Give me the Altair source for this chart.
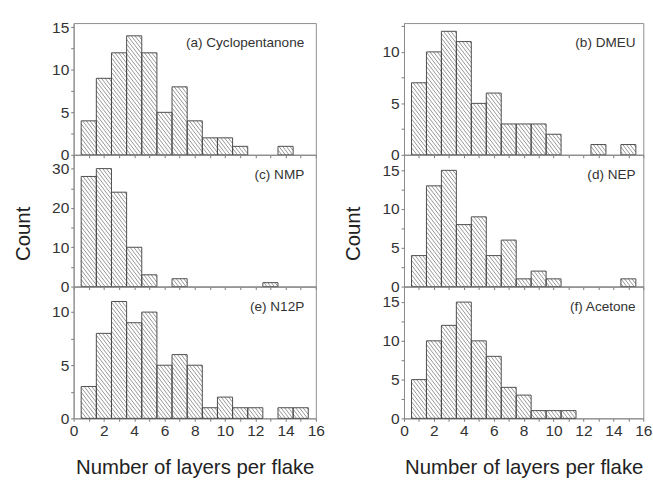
import altair as alt
import pandas as pd
import numpy as np

# ---- data ----
bin_centres = list(range(1, 16))
counts_a = [4, 9, 12, 14, 12, 5, 8, 4, 2, 2, 1, 0, 0, 1, 0]
counts_b = [7, 10, 12, 11, 5, 6, 3, 3, 3, 2, 0, 0, 1, 0, 1]
counts_c = [28, 30, 24, 10, 3, 0, 2, 0, 0, 0, 0, 0, 1, 0, 0]
counts_d = [4, 13, 15, 8, 9, 4, 6, 1, 2, 1, 0, 0, 0, 0, 1]
counts_e = [3, 8, 11, 9, 10, 5, 6, 5, 1, 2, 1, 1, 0, 1, 1]
counts_f = [5, 10, 12, 15, 10, 8, 4, 3, 1, 1, 1, 0, 0, 0, 0]
panel_labels = ["(a) Cyclopentanone", "(b) DMEU", "(c) NMP",
                "(d) NEP", "(e) N12P", "(f) Acetone"]
y_max = [15.5, 12.8, 33.5, 17.0, 12.4, 17.0]
y_major = [5, 5, 10, 5, 5, 5]
x_ticks = list(range(0, 17))
x_title = "Number of layers per flake"
y_title = "Count"

FONT = "Liberation Sans"
H = 136
W_LEFT, W_RIGHT = 250, 247


def hatch_rows(counts, ymax, W, step=3.8, slope=1.3):
    """Diagonal hatch segments clipped to each bar (derived from the bars)."""
    kx = W / 16.0
    ky = H / ymax
    rows = []
    for c, n in zip(bin_centres, counts):
        if n <= 0:
            continue
        x0 = (c - 0.5) * kx
        x1 = (c + 0.5) * kx
        top = H - n * ky
        bot = H
        kmin = int(np.floor((x0 - bot / slope) / step)) - 1
        kmax = int(np.ceil((x1 - top / slope) / step)) + 1
        for k in range(kmin, kmax + 1):
            off = k * step
            pa = max(x0, off + top / slope)
            pb = min(x1, off + bot / slope)
            if pb - pa < 0.4:
                continue
            ya = slope * (pa - off)
            yb = slope * (pb - off)
            rows.append({"hx1": pa / kx, "hx2": pb / kx,
                         "hy1": (H - ya) / ky, "hy2": (H - yb) / ky})
    return pd.DataFrame(rows)


def panel(idx, counts, W, bottom_row, middle_row, label_dx):
    ymax = y_max[idx]
    major = y_major[idx]
    df = pd.DataFrame({
        "start": [c - 0.5 for c in bin_centres],
        "end": [c + 0.5 for c in bin_centres],
        "count": counts,
        "base": [0] * len(bin_centres),
    })
    df = df[df["count"] > 0]
    hdf = hatch_rows(counts, ymax, W)

    xs = alt.Scale(domain=[0, 16], nice=False, zero=False)
    ys = alt.Scale(domain=[0, ymax], nice=False)

    xkw = dict(values=x_ticks,
               labelExpr="datum.value % 2 == 0 ? datum.label : ''",
               labels=bottom_row)
    if bottom_row:
        xkw["title"] = x_title
        xkw["titlePadding"] = 19
    else:
        xkw["title"] = None
    xaxis = alt.Axis(**xkw)

    yvals = [float(v) for v in np.arange(0, ymax + 1e-9, major / 2)]
    ykw = dict(values=yvals,
               labelExpr=f"datum.value % {major} == 0 ? datum.label : ''")
    if middle_row:
        ykw["title"] = y_title
        ykw["titleY"] = H / 2 + 13
        ykw["titlePadding"] = 19
    else:
        ykw["title"] = None
    yaxis = alt.Axis(**ykw)

    fill = alt.Chart(df).mark_rect(fill="white").encode(
        x=alt.X("start:Q", scale=xs, axis=xaxis), x2="end:Q",
        y=alt.Y("count:Q", scale=ys, axis=yaxis), y2="base:Q")
    hatch = alt.Chart(hdf).mark_rule(color="#7a7a7a", strokeWidth=0.8).encode(
        x=alt.X("hx1:Q", scale=xs, axis=xaxis), x2="hx2:Q",
        y=alt.Y("hy1:Q", scale=ys, axis=yaxis), y2="hy2:Q")
    outline = alt.Chart(df).mark_rect(fillOpacity=0, stroke="#4a4a4a",
                                      strokeWidth=1).encode(
        x=alt.X("start:Q", scale=xs, axis=xaxis), x2="end:Q",
        y=alt.Y("count:Q", scale=ys, axis=yaxis), y2="base:Q")
    text = alt.Chart(pd.DataFrame({"label": [panel_labels[idx]]})).mark_text(
        align="right", baseline="middle", fontSize=14, font=FONT,
        color="#333").encode(
        x=alt.value(W - label_dx), y=alt.value(21), text="label:N")
    return alt.layer(fill, hatch, outline, text).properties(width=W, height=H)


pa = panel(0, counts_a, W_LEFT, False, False, 12)
pc = panel(2, counts_c, W_LEFT, False, True, 12)
pe = panel(4, counts_e, W_LEFT, True, False, 12)
pb = panel(1, counts_b, W_RIGHT, False, False, 8)
pd_ = panel(3, counts_d, W_RIGHT, False, True, 8)
pf = panel(5, counts_f, W_RIGHT, True, False, 8)

left = alt.vconcat(pa, pc, pe, spacing=0, bounds="flush")
right = alt.vconcat(pb, pd_, pf, spacing=0, bounds="flush")

chart = alt.hconcat(left, right, spacing=17).properties(
    padding={"left": 12, "top": 11, "right": 0, "bottom": 0}
).configure_view(
    stroke="#8c8c8c", strokeWidth=1
).configure_axis(
    labelFont=FONT, labelFontSize=16, labelColor="#333",
    titleFont=FONT, titleFontSize=21, titleFontWeight="normal",
    titleColor="#222", tickColor="#777", domainColor="#8c8c8c",
    grid=False, labelPadding=2, tickSize=3, labelFlush=False
)

chart.save("out.html", embed_options={"renderer": "svg", "actions": False})
